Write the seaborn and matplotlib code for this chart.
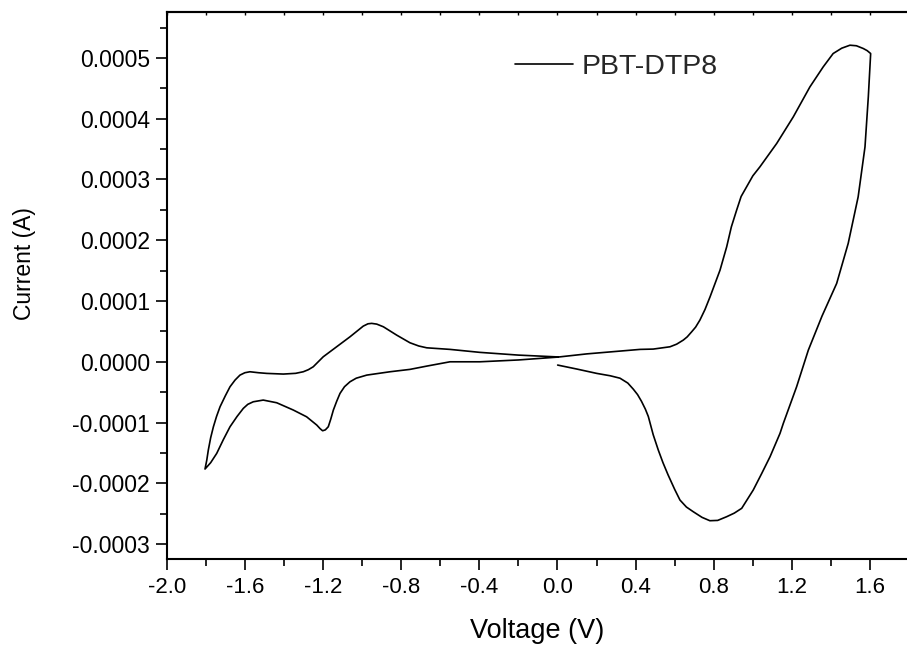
import matplotlib
matplotlib.use("Agg")
import matplotlib.pyplot as plt
from matplotlib.ticker import MultipleLocator, FormatStrFormatter
import seaborn as sns
import pandas as pd

# Cyclic voltammogram trace (voltage in V, current in units of 1e-4 A), in scan order
voltage = [
    0.001, 0.100, 0.201, 0.270, 0.320, 0.360, 0.388, 0.410, 0.430, 0.450, 0.465, 0.490,
    0.516, 0.540, 0.566, 0.600, 0.627, 0.660, 0.695, 0.740, 0.780, 0.820, 0.866, 0.905,
    0.943, 1.002, 1.045, 1.088, 1.139, 1.156, 1.190, 1.224, 1.284, 1.354, 1.429, 1.488,
    1.539, 1.574, 1.591, 1.603,
    1.585, 1.565, 1.530, 1.497, 1.455, 1.411, 1.360, 1.292, 1.207, 1.122, 1.036, 1.000,
    0.968, 0.940, 0.917, 0.890, 0.866, 0.832, 0.797, 0.781, 0.755, 0.729, 0.707, 0.687,
    0.664, 0.644, 0.610, 0.576, 0.490, 0.423, 0.320, 0.150, 0.001,
    -0.200, -0.397, -0.550, -0.669, -0.755, -0.857, -0.976, -1.030, -1.062, -1.090,
    -1.113, -1.130, -1.147, -1.160, -1.173, -1.188, -1.202, -1.215, -1.232, -1.284,
    -1.352, -1.437, -1.506, -1.557, -1.585, -1.608, -1.640, -1.676, -1.710, -1.744,
    -1.775, -1.804,
    -1.795, -1.787, -1.775, -1.761, -1.745, -1.727, -1.700, -1.676, -1.650, -1.625,
    -1.600, -1.574, -1.530, -1.488, -1.403, -1.340, -1.301, -1.275, -1.250, -1.199,
    -1.130, -1.062, -0.994, -0.970, -0.951, -0.925, -0.891, -0.823, -0.755, -0.710,
    -0.669, -0.550, -0.397, -0.200, 0.001,
]
current_e4 = [
    -0.054, -0.12, -0.191, -0.23, -0.27, -0.35, -0.45, -0.54, -0.65, -0.78, -0.90, -1.20,
    -1.452, -1.66, -1.86, -2.10, -2.275, -2.39, -2.467, -2.56, -2.615, -2.61, -2.549, -2.49,
    -2.411, -2.110, -1.84, -1.562, -1.178, -1.013, -0.71, -0.411, 0.192, 0.752, 1.289, 1.947,
    2.714, 3.536, 4.359, 5.072,
    5.12, 5.155, 5.20, 5.209, 5.16, 5.072, 4.852, 4.523, 4.030, 3.592, 3.207, 3.06,
    2.878, 2.72, 2.495, 2.22, 1.891, 1.508, 1.207, 1.069, 0.86, 0.686, 0.57, 0.494,
    0.41, 0.357, 0.29, 0.247, 0.209, 0.204, 0.176, 0.13, 0.077,
    0.03, 0.0, 0.0, -0.071, -0.125, -0.164, -0.219, -0.27, -0.329, -0.41,
    -0.520, -0.65, -0.794, -0.94, -1.069, -1.12, -1.135, -1.10, -1.041, -0.905,
    -0.794, -0.674, -0.630, -0.658, -0.70, -0.767, -0.90, -1.069, -1.28, -1.507,
    -1.66, -1.765,
    -1.62, -1.452, -1.25, -1.069, -0.90, -0.740, -0.56, -0.411, -0.30, -0.219,
    -0.18, -0.164, -0.18, -0.191, -0.202, -0.19, -0.164, -0.13, -0.082, 0.082,
    0.247, 0.411, 0.587, 0.625, 0.632, 0.62, 0.576, 0.439, 0.313, 0.26,
    0.230, 0.204, 0.155, 0.11, 0.08,
]
series_label = "PBT-DTP8"
x_label = "Voltage (V)"
y_label = "Current (A)"

df = pd.DataFrame({
    "Voltage": voltage,
    "Current": [c * 1e-4 for c in current_e4],
    "series": series_label,
})

sns.set_theme(style="white")
plt.rcParams["font.family"] = ["Liberation Sans", "DejaVu Sans"]

fig = plt.figure(figsize=(9.07, 6.49), dpi=100)
ax = fig.add_axes([0.1838, 0.1382, 0.8162, 0.8428])

sns.lineplot(data=df, x="Voltage", y="Current", hue="series", palette=["black"],
             sort=False, estimator=None, units="series", linewidth=1.2, ax=ax)

ax.set_xlim(-2.0, 1.789)
ax.set_ylim(-0.000325, 0.000575)

ax.xaxis.set_major_locator(MultipleLocator(0.4))
ax.xaxis.set_minor_locator(MultipleLocator(0.2))
ax.yaxis.set_major_locator(MultipleLocator(0.0001))
ax.yaxis.set_minor_locator(MultipleLocator(0.00005))
ax.xaxis.set_major_formatter(FormatStrFormatter("%.1f"))
ax.yaxis.set_major_formatter(FormatStrFormatter("%.4f"))

for side in ["left", "bottom", "top"]:
    ax.spines[side].set_visible(True)
    ax.spines[side].set_color("black")
    ax.spines[side].set_linewidth(1.5)
ax.spines["right"].set_visible(False)

ax.tick_params(which="both", direction="out", color="black", width=1.2,
               left=True, bottom=True, top=False, right=False)
ax.tick_params(which="major", length=8, labelcolor="black")
ax.tick_params(axis="x", which="major", labelsize=16, pad=5)
ax.tick_params(axis="y", which="major", labelsize=16.5, pad=4)
ax.tick_params(which="minor", length=5)

sec = ax.secondary_xaxis("top")
sec.xaxis.set_major_locator(MultipleLocator(0.2))
sec.tick_params(direction="in", length=2.5, width=1.0, labeltop=False, color="black")
sec.spines["top"].set_linewidth(1.5)

ax.set_xlabel(x_label, fontsize=19.5, color="black", labelpad=14)
ax.set_ylabel(y_label, fontsize=16.5, color="black")
ax.yaxis.set_label_coords(-0.176, 0.540)
ax.grid(False)

leg = ax.legend(loc="center left", bbox_to_anchor=(0.4705, 0.900), frameon=False,
                fontsize=20.5, handlelength=2.05, handletextpad=0.3,
                borderpad=0, borderaxespad=0)
for h in leg.get_lines():
    h.set_linewidth(1.2)

fig.savefig("out.png", dpi=100, facecolor="white")
